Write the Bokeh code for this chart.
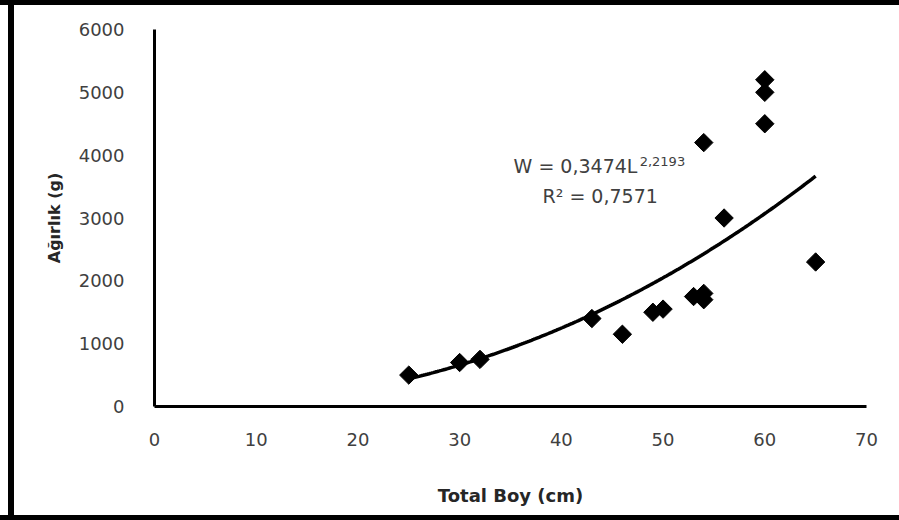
import numpy as np
from bokeh.plotting import figure
from bokeh.models import Range1d, Label, FixedTicker
from bokeh.embed import file_html
from bokeh.resources import INLINE

# ---- data ----
length_cm = [25, 30, 32, 43, 46, 49, 50, 53, 54, 54, 54, 56, 60, 60, 60, 65]
weight_g = [500, 700, 750, 1400, 1150, 1500, 1550, 1750, 1800, 1700, 4200, 3000, 5200, 5000, 4500, 2300]
x_ticks = [0, 10, 20, 30, 40, 50, 60, 70]
y_ticks = [0, 1000, 2000, 3000, 4000, 5000, 6000]
fit_a = 0.3474
fit_b = 2.2193
eq_main = "W = 0,3474L"
eq_exp = "2,2193"
eq_r2 = "R\u00b2 = 0,7571"
x_title = "Total Boy (cm)"
y_title = "A\u011f\u0131rl\u0131k (g)"

FONT = "DejaVu Sans"

p = figure(width=899, height=520, output_backend="svg", toolbar_location=None,
           x_range=Range1d(0, 70), y_range=Range1d(0, 6000),
           min_border_left=154, min_border_right=33, min_border_top=29, min_border_bottom=114)
p.border_fill_color = None
p.background_fill_color = None
p.outline_line_color = None
p.xgrid.visible = False
p.ygrid.visible = False
p.styles = {"box-shadow": ("inset 0 5px 0 0 black, inset 0 -5px 0 0 black, "
                           "inset 8px 0 0 0 white, inset 14px 0 0 0 black")}

# trendline (power fit shown in the chart)
xs = np.linspace(min(length_cm), max(length_cm), 200)
ys = fit_a * xs ** fit_b
p.line(xs, ys, line_color="black", line_width=3.5)

# points (Excel-style diamonds)
p.scatter(length_cm, weight_g, marker="square", angle=np.pi / 4, size=13,
          fill_color="black", line_color="black")

for ax, ticks in ((p.xaxis[0], x_ticks), (p.yaxis[0], y_ticks)):
    ax.ticker = FixedTicker(ticks=ticks)
    ax.axis_line_color = "black"
    ax.axis_line_width = 3
    ax.major_tick_line_color = None
    ax.minor_tick_line_color = None
    ax.major_label_text_font = FONT
    ax.major_label_text_font_size = "18px"
    ax.major_label_text_color = "#404040"
    ax.axis_label_text_font = FONT
    ax.axis_label_text_font_style = "bold"
    ax.axis_label_text_color = "#262626"

p.xaxis.axis_label = x_title
p.yaxis.axis_label = y_title
p.xaxis.axis_label_text_font_size = "18px"
p.yaxis.axis_label_text_font_size = "16px"
p.xaxis.major_label_standoff = 20
p.yaxis.major_label_standoff = 24
p.xaxis.axis_label_standoff = 36
p.yaxis.axis_label_standoff = 12

# equation labels
p.add_layout(Label(x=35.3, y=3820, text=eq_main, text_font=FONT, text_font_size="19px",
                   text_color="#404040", text_baseline="middle", text_align="left"))
p.add_layout(Label(x=47.7, y=3905, text=eq_exp, text_font=FONT, text_font_size="13px",
                   text_color="#404040", text_baseline="middle", text_align="left"))
p.add_layout(Label(x=38.15, y=3358, text=eq_r2, text_font=FONT, text_font_size="19px",
                   text_color="#404040", text_baseline="middle", text_align="left"))

open("out.html", "w").write(file_html(p, INLINE))
